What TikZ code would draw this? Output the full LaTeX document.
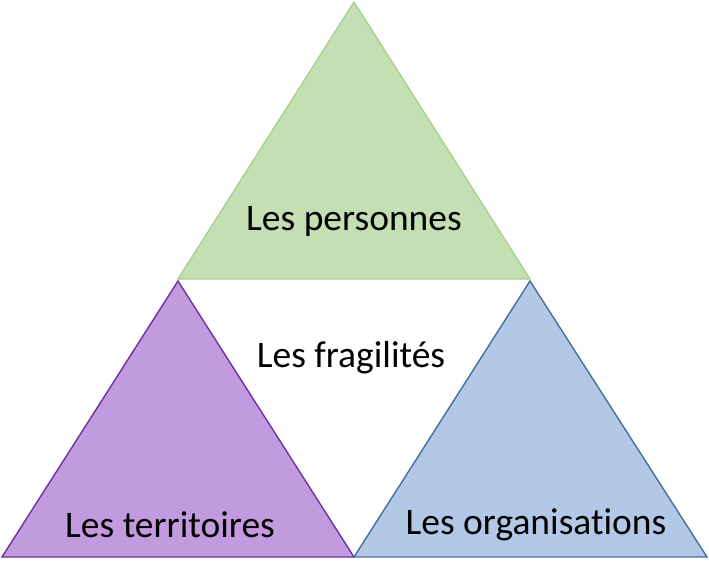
\documentclass[tikz,border=0pt]{standalone}
\usepackage{fontspec}
\setmainfont{Carlito}[Ligatures=NoCommon]
\usetikzlibrary{positioning,calc}
\definecolor{greenfill}{HTML}{C4DFB4}
\definecolor{greenline}{HTML}{A9D18E}
\definecolor{purplefill}{HTML}{C29ADE}
\definecolor{purpleline}{HTML}{7030A0}
\definecolor{bluefill}{HTML}{B3C7E6}
\definecolor{blueline}{HTML}{41719C}
\tikzset{
  corner/.style  = {fill=#1fill, draw=#1line, line width=1.4pt, line join=miter},
  label/.style   = {font=\fontsize{37.5}{44}\selectfont, inner sep=0pt}
}
\begin{document}
\begin{tikzpicture}[x=1pt,y=-1pt]
      \useasboundingbox (0,0) rectangle (709,569);
      \filldraw[corner=green] (354,2) -- (530,279) -- (178,279) -- cycle;
      \filldraw[corner=purple] (178,281) -- (354,557) -- (2,557) -- cycle;
      \filldraw[corner=blue] (530,281) -- (707,557) -- (354,557) -- cycle;
      \node[label] (personnes) at (354,221) {Les personnes};
      \node[label] (fragilites) at (351,358) {Les fragilités};
      \node[label] (territoires) at (170,525) {Les territoires};
      \node[label] (organisations) at (536,525) {Les organisations};
    \end{tikzpicture}
\end{document}
